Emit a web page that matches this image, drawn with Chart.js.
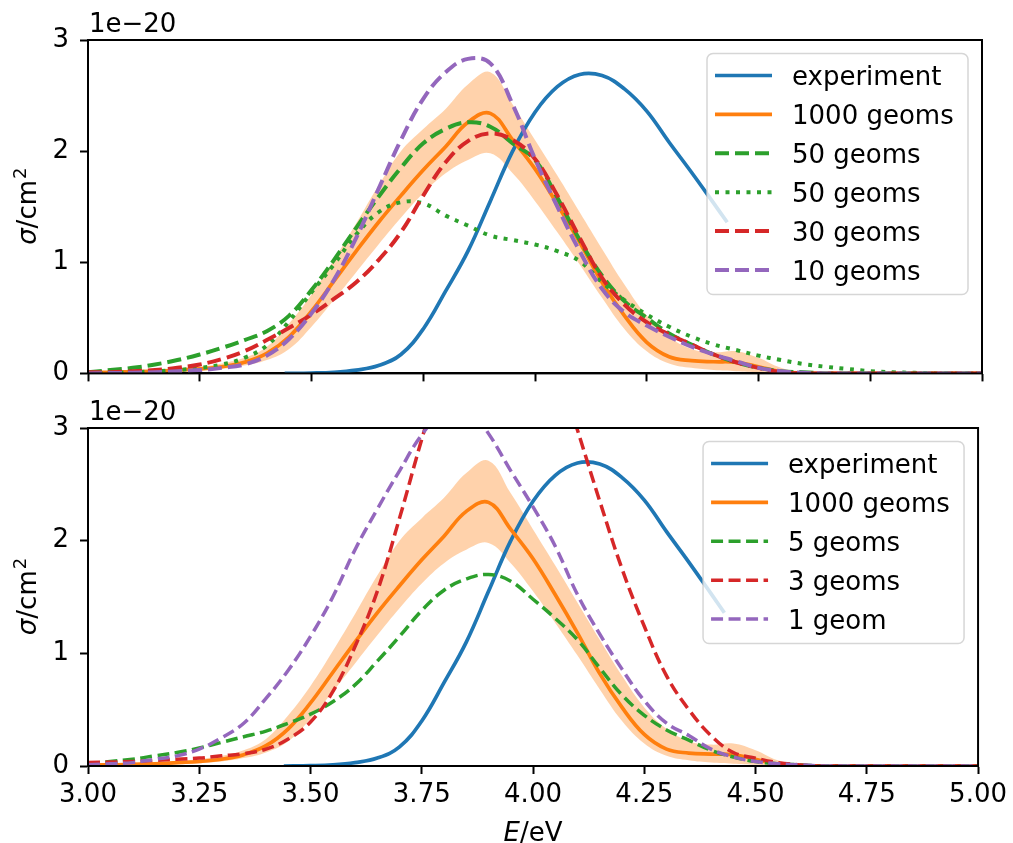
<!DOCTYPE html>
<html>
<head>
<meta charset="utf-8">
<script src="https://cdn.jsdelivr.net/npm/chart.js@4"></script>
<style>
body { margin: 0; background: #fff; }
#wrap { position: relative; width: 1013px; height: 843px; }
canvas { position: absolute; left: 0; }
</style>
</head>
<body>
<div id="wrap">
  <canvas id="topChart" width="1013" height="400" style="top:0px"></canvas>
  <canvas id="bottomChart" width="1013" height="443" style="top:400px"></canvas>
</div>
<script>
// photon energy grid (eV), cross sections in units of 1e-20 cm^2
const energy = [3.00, 3.05, 3.10, 3.15, 3.20, 3.25, 3.30, 3.35, 3.40, 3.45,
                3.50, 3.55, 3.60, 3.65, 3.70, 3.75, 3.80, 3.85, 3.90, 3.95,
                4.00, 4.05, 4.10, 4.15, 4.20, 4.25, 4.30, 4.35, 4.40, 4.45,
                4.50, 4.55, 4.60, 4.65, 4.70, 4.75, 4.80, 4.85, 4.90, 4.95, 5.00];

const expEnergy = [3.44, 3.50, 3.55, 3.60, 3.65, 3.70, 3.75, 3.80, 3.85, 3.90, 3.95,
                   4.00, 4.05, 4.10, 4.15, 4.20, 4.25, 4.30, 4.35, 4.40, 4.43];
const experiment = [0, 0.003, 0.01, 0.03, 0.07, 0.17, 0.4, 0.74, 1.1, 1.55, 2.0,
                    2.35, 2.58, 2.69, 2.68, 2.56, 2.36, 2.08, 1.81, 1.53, 1.36];

const geoms1000 = [0.01, 0.01, 0.015, 0.02, 0.03, 0.04, 0.06, 0.1, 0.18, 0.33,
                   0.56, 0.83, 1.1, 1.36, 1.6, 1.83, 2.04, 2.26, 2.34, 2.1,
                   1.84, 1.52, 1.18, 0.82, 0.52, 0.28, 0.15, 0.115, 0.105, 0.1,
                   0.06, 0.015, 0.003, 0, 0, 0, 0, 0, 0, 0, 0];
const band1000Low = [0, 0, 0.005, 0.01, 0.015, 0.025, 0.04, 0.07, 0.12, 0.22,
                     0.42, 0.66, 0.91, 1.16, 1.4, 1.62, 1.8, 1.92, 1.98, 1.8,
                     1.55, 1.27, 0.98, 0.68, 0.4, 0.2, 0.09, 0.05, 0.03, 0.02,
                     0.01, 0, 0, 0, 0, 0, 0, 0, 0, 0, 0];
const band1000High = [0.02, 0.02, 0.025, 0.03, 0.045, 0.06, 0.09, 0.14, 0.24, 0.45,
                      0.71, 1.02, 1.35, 1.69, 2.0, 2.2, 2.38, 2.6, 2.71, 2.42,
                      2.1, 1.78, 1.45, 1.12, 0.8, 0.52, 0.33, 0.22, 0.19, 0.2,
                      0.14, 0.05, 0.01, 0, 0, 0, 0, 0, 0, 0, 0];

const geoms50 = [0.01, 0.03, 0.05, 0.08, 0.12, 0.17, 0.23, 0.3, 0.38, 0.52,
                 0.75, 1.02, 1.31, 1.59, 1.85, 2.07, 2.2, 2.26, 2.22, 2.07,
                 1.92, 1.58, 1.2, 0.88, 0.65, 0.5, 0.36, 0.26, 0.17, 0.1,
                 0.05, 0.02, 0.01, 0, 0, 0, 0, 0, 0, 0, 0];
const geoms50dot = [0, 0.005, 0.01, 0.02, 0.03, 0.05, 0.08, 0.14, 0.25, 0.47,
                    0.73, 0.98, 1.25, 1.45, 1.54, 1.53, 1.42, 1.33, 1.24, 1.2,
                    1.16, 1.1, 1.01, 0.82, 0.66, 0.53, 0.42, 0.33, 0.26, 0.21,
                    0.16, 0.12, 0.085, 0.06, 0.04, 0.02, 0.01, 0.005, 0, 0, 0];
const geoms30 = [0.01, 0.01, 0.02, 0.03, 0.05, 0.08, 0.13, 0.2, 0.3, 0.41,
                 0.53, 0.67, 0.82, 1.02, 1.27, 1.6, 1.9, 2.09, 2.16, 2.1,
                 1.93, 1.6, 1.22, 0.86, 0.62, 0.46, 0.35, 0.26, 0.17, 0.1,
                 0.05, 0.01, 0, 0, 0, 0, 0, 0, 0, 0, 0];
const geoms10 = [0, 0.003, 0.006, 0.01, 0.02, 0.03, 0.05, 0.08, 0.16, 0.31,
                 0.54, 0.84, 1.22, 1.66, 2.1, 2.47, 2.71, 2.83, 2.79, 2.42,
                 1.93, 1.5, 1.1, 0.76, 0.55, 0.43, 0.33, 0.24, 0.17, 0.11,
                 0.05, 0.02, 0.005, 0, 0, 0, 0, 0, 0, 0, 0];

const geoms5 = [0.02, 0.04, 0.06, 0.09, 0.12, 0.16, 0.21, 0.26, 0.31, 0.38,
                0.46, 0.57, 0.72, 0.93, 1.15, 1.38, 1.56, 1.66, 1.7, 1.64,
                1.48, 1.31, 1.12, 0.87, 0.63, 0.45, 0.32, 0.23, 0.14, 0.08,
                0.04, 0.02, 0.01, 0, 0, 0, 0, 0, 0, 0, 0];
const geoms3 = [0.03, 0.035, 0.04, 0.05, 0.06, 0.07, 0.09, 0.11, 0.15, 0.24,
                0.39, 0.66, 1.06, 1.55, 2.2, 2.9, 3.55, 4.1, 4.4, 4.4,
                4.1, 3.6, 2.98, 2.35, 1.75, 1.24, 0.8, 0.5, 0.27, 0.12,
                0.07, 0.03, 0.01, 0, 0, 0, 0, 0, 0, 0, 0];
const geoms1 = [0.01, 0.02, 0.03, 0.06, 0.09, 0.15, 0.25, 0.38, 0.6, 0.85,
                1.15, 1.5, 1.92, 2.28, 2.62, 2.94, 3.15, 3.2, 2.95, 2.62,
                2.3, 1.95, 1.52, 1.17, 0.86, 0.58, 0.38, 0.27, 0.15, 0.08,
                0.04, 0.02, 0.01, 0, 0, 0, 0, 0, 0, 0, 0];

const xTicks = [3.00, 3.25, 3.50, 3.75, 4.00, 4.25, 4.50, 4.75, 5.00];
const yTicks = [0, 1, 2, 3];

const blue = '#1f77b4', orange = '#ff7f0e', green = '#2ca02c', red = '#d62728', purple = '#9467bd';
const FONT = '"DejaVu Sans"';
const FS = 26;

Chart.defaults.font.family = FONT;
Chart.defaults.font.size = FS;
Chart.defaults.color = '#000';

function pts(xs, ys) {
    return xs.map((x, i) => ({ x: x, y: ys[i] }));
}

function line(label, xs, ys, color, dash, width) {
    return {
        label: label,
        inLegend: true,
        data: pts(xs, ys),
        borderColor: color,
        backgroundColor: color,
        borderWidth: width,
        borderDash: dash,
        borderCapStyle: 'butt',
        borderJoinStyle: 'round',
        pointRadius: 0,
        tension: 0.4,
        fill: false
    };
}

function bandSets() {
    return [
        { data: pts(energy, band1000Low), borderWidth: 0, pointRadius: 0, fill: false,
          borderColor: 'rgba(0,0,0,0)', tension: 0.4 },
        { data: pts(energy, band1000High), borderWidth: 0, pointRadius: 0, fill: '-1',
          borderColor: 'rgba(0,0,0,0)', backgroundColor: 'rgba(255,127,14,0.35)',
          tension: 0.4 }
    ];
}

// frame, legend, axis titles and offset label
const decor = {
    id: 'decor',
    afterDatasetsDraw(chart) {
        const ctx = chart.ctx, a = chart.chartArea;
        const o = chart.options.plugins.decor;
        const f = FS + 'px ' + FONT, fi = 'italic ' + FS + 'px ' + FONT;
        ctx.save();
        ctx.strokeStyle = '#000';
        ctx.lineWidth = 2;
        ctx.strokeRect(a.left, a.top, a.right - a.left, a.bottom - a.top);

        // offset text
        ctx.fillStyle = '#000';
        ctx.font = f;
        ctx.textBaseline = 'alphabetic';
        ctx.textAlign = 'left';
        ctx.fillText('1e\u221220', a.left + 1, a.top - 8);

        // y title: sigma/cm^2
        ctx.save();
        ctx.translate(28, (a.top + a.bottom) / 2);
        ctx.rotate(-Math.PI / 2);
        ctx.font = fi; const w1 = ctx.measureText('\u03c3').width;
        ctx.font = f; const w2 = ctx.measureText('/cm').width;
        ctx.font = '18px ' + FONT; const w3 = ctx.measureText('2').width;
        let x = -(w1 + w2 + w3) / 2;
        ctx.font = fi; ctx.fillText('\u03c3', x, 8); x += w1;
        ctx.font = f; ctx.fillText('/cm', x, 8); x += w2;
        ctx.font = '18px ' + FONT; ctx.fillText('2', x + 1, -2);
        ctx.restore();

        // x title
        if (o.xTitle) {
            ctx.font = fi; const e1 = ctx.measureText('E').width;
            ctx.font = f; const e2 = ctx.measureText('/eV').width;
            const xx = (a.left + a.right) / 2 - (e1 + e2) / 2;
            ctx.font = fi; ctx.fillText('E', xx, o.xTitleY);
            ctx.font = f; ctx.fillText('/eV', xx + e1, o.xTitleY);
        }

        // legend
        const items = chart.data.datasets.filter(d => d.inLegend);
        const rowH = 38.9;
        const w = 261, h = 22 + (items.length - 1) * rowH + 24.5;
        const left = a.right - 14 - w, top = a.top + 13.5;
        ctx.beginPath();
        ctx.roundRect(left, top, w, h, 6);
        ctx.fillStyle = 'rgba(255,255,255,0.8)';
        ctx.fill();
        ctx.strokeStyle = 'rgba(204,204,204,0.8)';
        ctx.lineWidth = 1.5;
        ctx.stroke();
        items.forEach((d, i) => {
            const y = top + 22 + i * rowH;
            ctx.beginPath();
            ctx.setLineDash(d.borderDash || []);
            ctx.lineWidth = d.borderWidth;
            ctx.strokeStyle = d.borderColor;
            ctx.lineCap = 'butt';
            ctx.moveTo(left + 8, y);
            ctx.lineTo(left + 65, y);
            ctx.stroke();
            ctx.setLineDash([]);
            ctx.fillStyle = '#000';
            ctx.font = f;
            ctx.fillText(d.label, left + 85, y + 9.5);
        });
        ctx.restore();
    }
};

function makePanel(id, datasets, showX, padTop, xHeight) {
    datasets.forEach((d, i) => { d.order = 50 - i; });
    new Chart(document.getElementById(id), {
        type: 'line',
        data: { datasets: datasets },
        options: {
            responsive: false,
            animation: false,
            events: [],
            layout: { padding: { top: padTop, right: 31, left: 0, bottom: 0 } },
            plugins: {
                legend: { display: false },
                tooltip: { enabled: false },
                decor: { xTitle: showX, xTitleY: 441 }
            },
            scales: {
                x: {
                    type: 'linear',
                    min: 3, max: 5,
                    afterBuildTicks: (s) => { s.ticks = xTicks.map(v => ({ value: v })); },
                    afterFit: (s) => { s.height = xHeight; },
                    ticks: { display: showX, padding: 6, maxRotation: 0, autoSkip: false,
                             callback: (v) => Number(v).toFixed(2) },
                    grid: { drawOnChartArea: false, drawTicks: true, tickLength: 8,
                            tickWidth: 2, tickColor: '#000' },
                    border: { display: true, color: '#000', width: 2 }
                },
                y: {
                    min: 0, max: 3,
                    afterBuildTicks: (s) => { s.ticks = yTicks.map(v => ({ value: v })); },
                    afterFit: (s) => { s.width = 88; },
                    ticks: { padding: 11, callback: (v) => String(v) },
                    grid: { drawOnChartArea: false, drawTicks: true, tickLength: 8,
                            tickWidth: 2, tickColor: '#000' },
                    border: { display: true, color: '#000', width: 2 }
                }
            }
        },
        plugins: [decor]
    });
}

const topSets = bandSets().concat([
    line('experiment', expEnergy, experiment, blue, [], 3.7),
    line('1000 geoms', energy, geoms1000, orange, [], 3.7),
    line('50 geoms', energy, geoms50, green, [14, 6], 4),
    line('50 geoms', energy, geoms50dot, green, [4, 6.5], 4),
    line('30 geoms', energy, geoms30, red, [14, 6], 4),
    line('10 geoms', energy, geoms10, purple, [14, 6], 4)
]);

const bottomSets = bandSets().concat([
    line('experiment', expEnergy, experiment, blue, [], 3.7),
    line('1000 geoms', energy, geoms1000, orange, [], 3.7),
    line('5 geoms', energy, geoms5, green, [12, 5.5], 3.5),
    line('3 geoms', energy, geoms3, red, [12, 5.5], 3.5),
    line('1 geom', energy, geoms1, purple, [12, 5.5], 3.5)
]);

makePanel('topChart', topSets, false, 40, 23);
makePanel('bottomChart', bottomSets, true, 28, 77);
</script>
</body>
</html>
